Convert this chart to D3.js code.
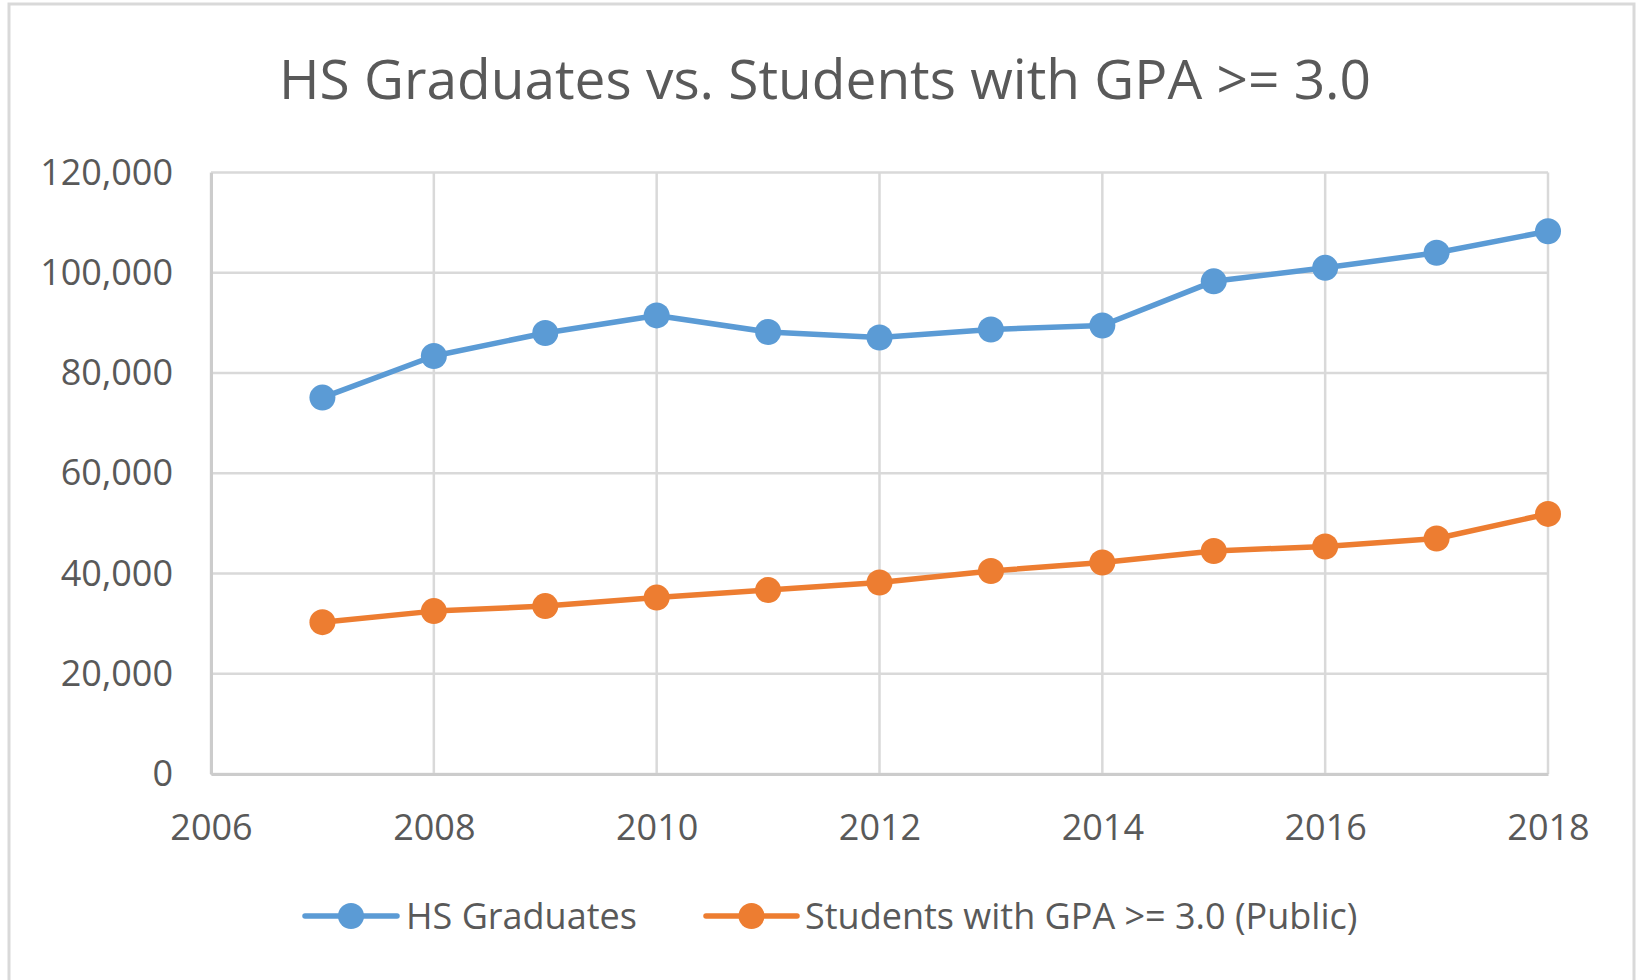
<!DOCTYPE html>
<html>
<head>
<meta charset="utf-8">
<script src="https://cdn.jsdelivr.net/npm/d3@7"></script>
<style>
  html, body { margin: 0; padding: 0; background: #fff; }
  svg { display: block; }
  text { font-family: "Open Sans", "Noto Sans", sans-serif; fill: #595959; }
</style>
</head>
<body>
<svg id="chart" width="1640" height="980"></svg>
<script>
const title = "HS Graduates vs. Students with GPA >= 3.0";
const years = [2007, 2008, 2009, 2010, 2011, 2012, 2013, 2014, 2015, 2016, 2017, 2018];
const hsGraduates = [75100, 83400, 88000, 91500, 88200, 87100, 88700, 89500, 98300, 101000, 104000, 108300];
const gpaStudents = [30300, 32500, 33500, 35200, 36700, 38200, 40500, 42200, 44500, 45400, 47000, 51900];
const seriesNames = ["HS Graduates", "Students with GPA >= 3.0 (Public)"];
const xTicks = [2006, 2008, 2010, 2012, 2014, 2016, 2018];
const yTicks = [0, 20000, 40000, 60000, 80000, 100000, 120000];

const colors = ["#5B9BD5", "#ED7D31"];
const svg = d3.select("#chart");

// outer chart border
svg.append("rect")
  .attr("x", 9).attr("y", 4).attr("width", 1625).attr("height", 1010)
  .attr("fill", "#fff").attr("stroke", "#d9d9d9").attr("stroke-width", 3);

const pLeft = 211, pRight = 1548, pTop = 172.6, pBottom = 774;
const x = d3.scaleLinear().domain([2006, 2018]).range([pLeft, pRight]);
const y = d3.scaleLinear().domain([0, 120000]).range([pBottom, pTop]);

// title
svg.append("text")
  .attr("x", 825).attr("y", 99)
  .attr("text-anchor", "middle")
  .attr("font-size", 55)
  .text(title);

// gridlines
const grid = svg.append("g");
grid.selectAll(".hg").data(yTicks).join("line")
  .attr("x1", pLeft).attr("x2", pRight)
  .attr("y1", d => y(d)).attr("y2", d => y(d))
  .attr("stroke", "#d9d9d9").attr("stroke-width", 2.5);
grid.selectAll(".vg").data(xTicks).join("line")
  .attr("x1", d => x(d)).attr("x2", d => x(d))
  .attr("y1", pTop).attr("y2", pBottom)
  .attr("stroke", "#d9d9d9").attr("stroke-width", 2.5);

// axes
const yAxis = d3.axisLeft(y).tickValues(yTicks).tickSize(0).tickPadding(38)
  .tickFormat(d3.format(","));
const gy = svg.append("g").attr("transform", `translate(${pLeft},0)`).call(yAxis);
gy.select(".domain").attr("stroke", "#cccccc").attr("stroke-width", 3);
gy.selectAll("text").attr("font-size", 36).attr("fill", "#595959")
  .style("font-family", '"Open Sans", sans-serif');

const xAxis = d3.axisBottom(x).tickValues(xTicks).tickSize(0).tickPadding(40)
  .tickFormat(d3.format("d"));
const gx = svg.append("g").attr("transform", `translate(0,${pBottom})`).call(xAxis);
gx.select(".domain").attr("stroke", "#cccccc").attr("stroke-width", 3);
gx.selectAll("text").attr("font-size", 36).attr("fill", "#595959")
  .style("font-family", '"Open Sans", sans-serif');

// series
const series = [hsGraduates, gpaStudents];
const line = d3.line().x((d, i) => x(years[i])).y(d => y(d));
series.forEach((vals, si) => {
  svg.append("path")
    .datum(vals)
    .attr("d", line)
    .attr("fill", "none")
    .attr("stroke", colors[si])
    .attr("stroke-width", 5.5)
    .attr("stroke-linejoin", "round");
  svg.append("g").selectAll("circle").data(vals).join("circle")
    .attr("cx", (d, i) => x(years[i]))
    .attr("cy", d => y(d))
    .attr("r", 13)
    .attr("fill", colors[si]);
});

// legend
const legendItems = [
  { x1: 305, x2: 397, tx: 406 },
  { x1: 706, x2: 797, tx: 805 }
];
const ly = 916;
legendItems.forEach((it, i) => {
  const g = svg.append("g");
  g.append("line").attr("x1", it.x1).attr("x2", it.x2).attr("y1", ly).attr("y2", ly)
    .attr("stroke", colors[i]).attr("stroke-width", 5.5).attr("stroke-linecap", "round");
  g.append("circle").attr("cx", (it.x1 + it.x2) / 2).attr("cy", ly).attr("r", 13)
    .attr("fill", colors[i]);
  g.append("text").attr("x", it.tx).attr("y", ly).attr("dy", "0.35em")
    .attr("font-size", 36).text(seriesNames[i]);
});
</script>
</body>
</html>
